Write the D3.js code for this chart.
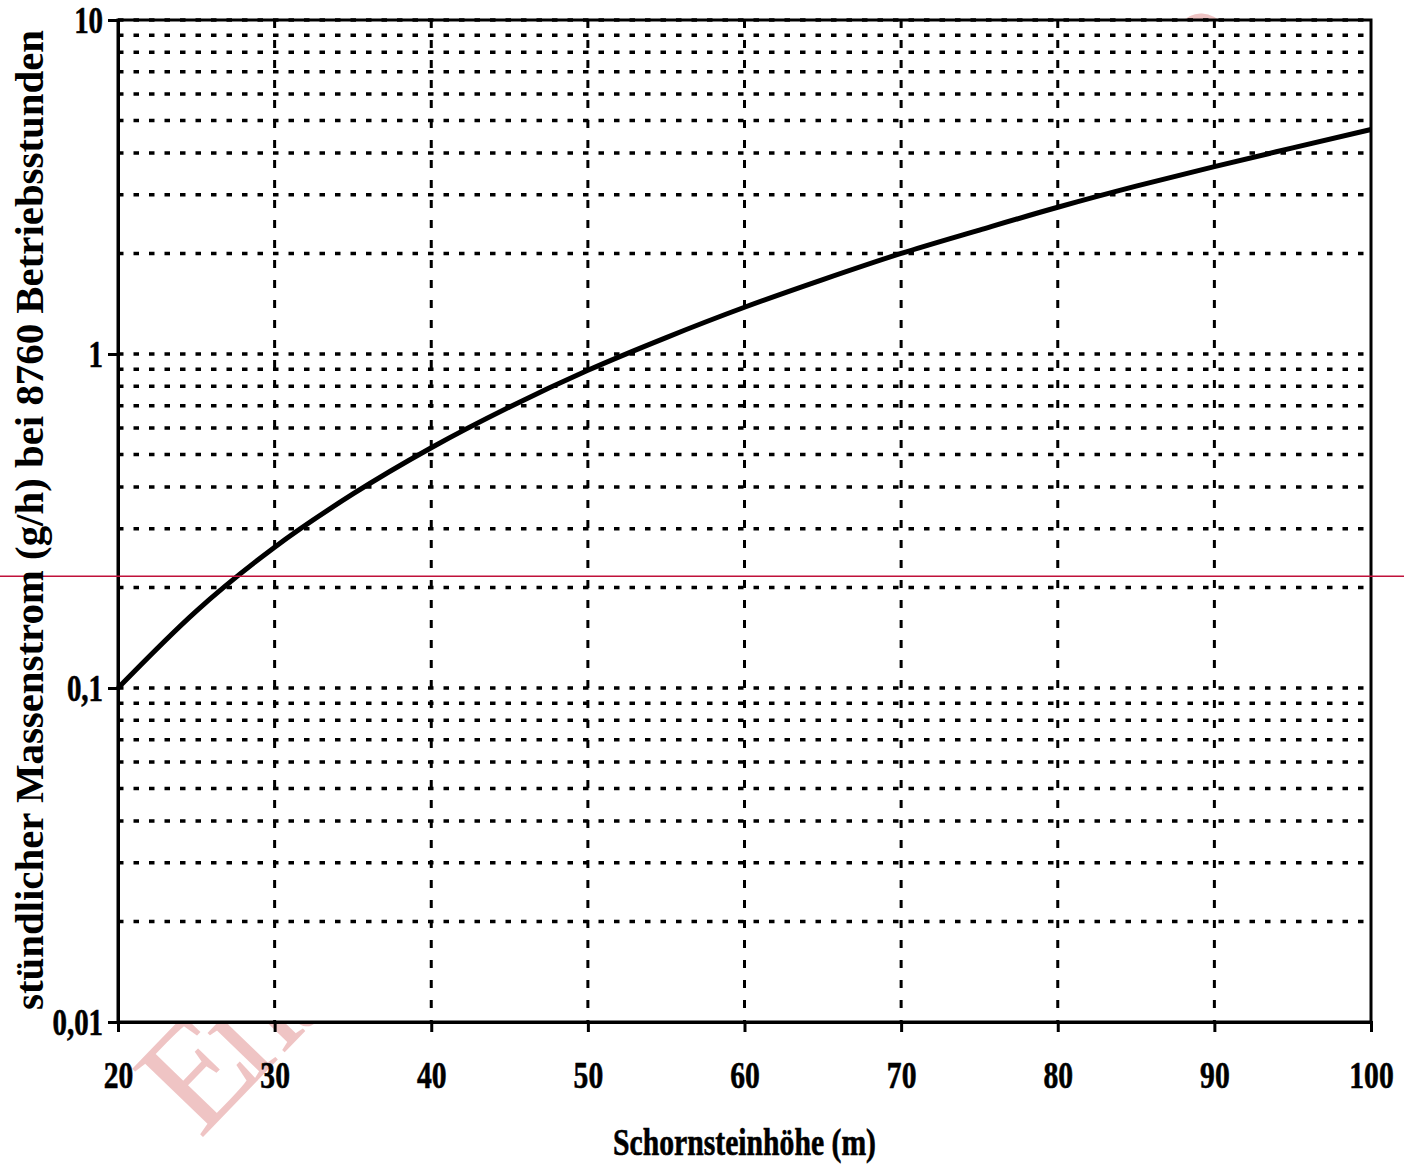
<!DOCTYPE html>
<html>
<head>
<meta charset="utf-8">
<script src="https://d3js.org/d3.v7.min.js"></script>
<style>
body{margin:0;background:#fff}
svg{display:block}
text{font-family:'Liberation Serif','Times New Roman',serif;font-weight:bold;fill:#000}
</style>
</head>
<body>
<div id="chart"></div>
<script>
// Schornsteinhöhe (m) vs. stündlicher Massenstrom (g/h)
const heights = [20, 25, 30, 35, 40, 45, 50, 55, 60, 65, 70, 75, 80, 85, 90, 95, 100];
const massFlow = [0.100, 0.170, 0.264, 0.381, 0.524, 0.694, 0.894, 1.12, 1.38, 1.67, 2.00, 2.35, 2.75, 3.18, 3.64, 4.14, 4.70];

const xTicks = [20, 30, 40, 50, 60, 70, 80, 90, 100];
const yTicks = [0.01, 0.1, 1, 10];
const yTickLabels = ["0,01", "0,1", "1", "10"];
// minor grid values per decade
const minorSteps = [1, 2, 3, 4, 5, 6, 7, 8, 9];
const refValue = 0.216;   // red horizontal line

const W = 1404, H = 1167;
const margin = {top: 20, right: 33, bottom: 145, left: 118};
const iw = W - margin.left - margin.right;
const ih = H - margin.top - margin.bottom;

const svg = d3.select("#chart").append("svg")
    .attr("width", W).attr("height", H);

// watermark, mostly hidden behind the white plot area
svg.append("text")
    .attr("transform", "translate(200,1140) rotate(-46)")
    .attr("font-size", 150)
    .style("font-weight", "normal")
    .style("fill", "#efc4c4")
    .attr("textLength", 1520)
    .attr("lengthAdjust", "spacing")
    .text("Entwurf zur Diskussion – Büro");

const g = svg.append("g").attr("transform", `translate(${margin.left},${margin.top})`);

const x = d3.scaleLinear().domain([20, 100]).range([0, iw]);
const y = d3.scaleLog().domain([0.01, 10]).range([ih, 0]);

g.append("rect").attr("width", iw).attr("height", ih).attr("fill", "#fff");

// horizontal dotted grid
const gridVals = [];
[0.01, 0.1, 1].forEach(d => minorSteps.forEach(m => gridVals.push(+(d * m).toPrecision(3))));
gridVals.push(10);
g.append("g").selectAll("line")
    .data(gridVals.filter(v => v > 0.01))
  .enter().append("line")
    .attr("x1", 0).attr("x2", iw)
    .attr("y1", d => y(d)).attr("y2", d => y(d))
    .attr("stroke", "#000").attr("stroke-width", 3.5)
    .attr("stroke-dasharray", "5.5 10");

// vertical dashed grid
g.append("g").selectAll("line")
    .data(xTicks.slice(1, -1))
  .enter().append("line")
    .attr("x1", d => x(d)).attr("x2", d => x(d))
    .attr("y1", 0).attr("y2", ih)
    .attr("stroke", "#000").attr("stroke-width", 3)
    .attr("stroke-dasharray", "8 12");

// frame
g.append("rect").attr("width", iw).attr("height", ih)
    .attr("fill", "none").attr("stroke", "#000").attr("stroke-width", 3);

// axes
const yAxis = g.append("g")
    .call(d3.axisLeft(y).tickValues(yTicks).tickSize(10).tickFormat((d, i) => yTickLabels[i]));
const xAxis = g.append("g").attr("transform", `translate(0,${ih})`)
    .call(d3.axisBottom(x).tickValues(xTicks).tickSize(10).tickFormat(d3.format("d")));

[yAxis, xAxis].forEach(a => {
  a.select(".domain").attr("stroke-width", 3);
  a.selectAll(".tick line").attr("stroke-width", 3);
  a.selectAll("text").attr("font-size", 37).attr("font-family", null)
      .style("stroke", "#000").style("stroke-width", 0.6);
});
yAxis.selectAll("text").attr("x", -15).attr("dy", "0.35em");
xAxis.selectAll("text").attr("y", 40).attr("dy", "0.71em");

// condense the tick labels like the original
function condense(sel, f) {
  sel.each(function() {
    const w = this.getComputedTextLength();
    d3.select(this).attr("textLength", w * f).attr("lengthAdjust", "spacingAndGlyphs");
  });
}
condense(yAxis.selectAll("text"), 0.78);
condense(xAxis.selectAll("text"), 0.8);

// curve
g.append("path")
    .datum(heights.map((h, i) => [h, massFlow[i]]))
    .attr("fill", "none").attr("stroke", "#000").attr("stroke-width", 5)
    .attr("stroke-linejoin", "round")
    .attr("d", d3.line().x(d => x(d[0])).y(d => y(d[1])).curve(d3.curveMonotoneX));

// red reference line across the full width
svg.append("line")
    .attr("x1", 0).attr("x2", W)
    .attr("y1", margin.top + y(refValue)).attr("y2", margin.top + y(refValue))
    .attr("stroke", "#c0103a").attr("stroke-width", 1.5);

// axis titles
svg.append("text")
    .attr("x", margin.left + iw / 2).attr("y", 1155)
    .attr("text-anchor", "middle").attr("font-size", 37)
    .style("stroke", "#000").style("stroke-width", 0.6)
    .attr("textLength", 263).attr("lengthAdjust", "spacingAndGlyphs")
    .text("Schornsteinhöhe (m)");

svg.append("text")
    .attr("transform", `translate(43,${520}) rotate(-90)`)
    .attr("text-anchor", "middle").attr("font-size", 40)
    .attr("textLength", 980).attr("lengthAdjust", "spacingAndGlyphs")
    .text("stündlicher Massenstrom (g/h) bei 8760 Betriebsstunden");
</script>
</body>
</html>
